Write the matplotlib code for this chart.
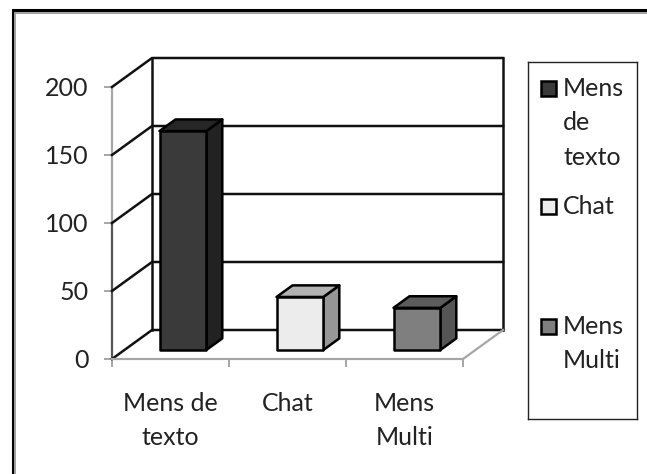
import matplotlib
matplotlib.use("Agg")
from matplotlib import pyplot as plt
from matplotlib.patches import Polygon, Rectangle

categories = ["Mens de\ntexto", "Chat", "Mens\nMulti"]
values = [161, 39, 31]
y_ticks = [0, 50, 100, 150, 200]
legend_labels = ["Mens\nde\ntexto", "Chat", "Mens\nMulti"]
front_colors = ["#3a3a3a", "#ececec", "#7f7f7f"]
top_colors = ["#262626", "#b2b2b2", "#5c5c5c"]
side_colors = ["#222222", "#969696", "#555555"]

W, H = 647, 474
plt.rcParams['font.family'] = ['Lato', 'DejaVu Sans']
TEXT = "#222222"

# oblique projection, depth 0..1 goes back and to the right
DX = 40 / 117.0
DY = 29 * 200 / 272.0

# legend layout in pixels from top of image
LEG_BOX = (528, 62, 637, 419)
LEG_MARK_Y = [88, 206.5, 326]


def proj(x, y, d):
    return (x + DX * d, y + DY * d)


def quad(ax, pts, color, z=3):
    ax.add_patch(Polygon([proj(*p) for p in pts], closed=True, facecolor=color,
                         edgecolor="black", linewidth=1.8, joinstyle="round",
                         clip_on=False, zorder=z))


def draw_walls(ax):
    # gridlines on back wall and the side wall
    for t in y_ticks:
        ax.plot(*zip(proj(0, t, 0), proj(0, t, 1), proj(3, t, 1)),
                color="#111111", lw=1.8, clip_on=False, zorder=2)
    ax.plot(*zip(proj(0, 0, 1), proj(0, 200, 1)), color="#111111", lw=1.8, clip_on=False, zorder=2)
    ax.plot(*zip(proj(3, 0, 1), proj(3, 200, 1)), color="#111111", lw=1.8, clip_on=False, zorder=2)
    ax.plot(*zip(proj(0, 0, 0), proj(3, 0, 0), proj(3, 0, 1)),
            color="#a6a6a6", lw=1.6, clip_on=False, zorder=2)
    ax.plot([0, 0], [100, 200], color="#a6a6a6", lw=1.6, clip_on=False, zorder=1)
    ax.plot([0, 0], [0, 100], color="#555555", lw=1.6, clip_on=False, zorder=1)


def draw_bars(ax):
    for i, v in enumerate(values):
        x0, x1 = i + 0.3, i + 0.7
        d0, d1 = 0.31, 0.71
        quad(ax, [(x1, 0, d0), (x1, 0, d1), (x1, v, d1), (x1, v, d0)], side_colors[i])
        quad(ax, [(x0, v, d0), (x1, v, d0), (x1, v, d1), (x0, v, d1)], top_colors[i])
        quad(ax, [(x0, 0, d0), (x1, 0, d0), (x1, v, d0), (x0, v, d0)], front_colors[i])


def draw_frame(fig):
    # only top and left edges show, black with a grey inner edge
    fig.add_artist(plt.Line2D([12.5 / W, 12.5 / W, 1], [0, 1 - 10 / H, 1 - 10 / H],
                              color="black", lw=2.2, solid_joinstyle="miter"))
    fig.add_artist(plt.Line2D([15 / W, 15 / W, 1], [0, 1 - 12.5 / H, 1 - 12.5 / H],
                              color="#a0a0a0", lw=1.4, solid_joinstyle="miter"))


def draw_legend(fig):
    x0, y0, x1, y1 = LEG_BOX
    lax = fig.add_axes([x0 / W, 1 - y1 / H, (x1 - x0) / W, (y1 - y0) / H])
    lax.set_xlim(x0, x1)
    lax.set_ylim(y1, y0)
    lax.set_xticks([])
    lax.set_yticks([])
    for s in lax.spines.values():
        s.set_linewidth(1.0)
        s.set_color("#222222")
    for label, my, c in zip(legend_labels, LEG_MARK_Y, front_colors):
        lax.add_patch(Rectangle((541, my - 7.5), 15, 15, facecolor=c,
                                edgecolor="black", linewidth=1.8))
        lax.text(563, my - 11, label, va="top", ha="left", fontsize=18,
                 color=TEXT, linespacing=1.6)


def main():
    fig = plt.figure(figsize=(W / 100, H / 100), dpi=100, facecolor="white")
    draw_frame(fig)
    ax = fig.add_axes([112 / W, 1 - 359 / H, 351 / W, 272 / H])
    ax.set_xlim(0, 3)
    ax.set_ylim(0, 200)
    for s in ax.spines.values():
        s.set_visible(False)
    ax.patch.set_visible(False)
    ax.set_xticks([0, 1, 2, 3])
    ax.set_xticklabels([])
    ax.set_yticks(y_ticks)
    ax.set_yticklabels([str(t) for t in y_ticks], fontsize=18, color=TEXT)
    ax.tick_params(axis="both", length=6, width=1.4, color="#a6a6a6")
    ax.tick_params(axis="y", pad=11)
    for i, c in enumerate(categories):
        ax.annotate(c, (i + 0.5, 0), xytext=(0, -24), textcoords="offset points",
                    xycoords="data", ha="center", va="top", fontsize=18,
                    color=TEXT, linespacing=1.55)
    draw_walls(ax)
    draw_bars(ax)
    draw_legend(fig)
    fig.savefig("out.png", dpi=100)


if __name__ == "__main__":
    main()
